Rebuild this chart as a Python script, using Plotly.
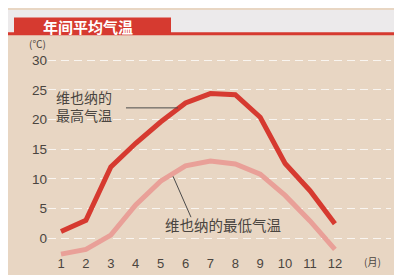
import plotly.graph_objects as go

months = list(range(1, 13))
month_labels = [str(m) for m in months]
high_temp = [1.1, 3.0, 12.0, 16.0, 19.6, 22.8, 24.4, 24.2, 20.4, 12.6, 8.0, 2.4]
low_temp = [-2.7, -1.9, 0.5, 5.6, 9.6, 12.2, 13.0, 12.5, 10.8, 7.2, 2.9, -1.9]
y_ticks = [0, 5, 10, 15, 20, 25, 30]
title_text = "<b>年间平均气温</b>"
high_label = "维也纳的<br>最高气温"
low_label = "维也纳的最低气温"

W, H = 402, 275
L, R, T, B = 40, 19, 40, 13
PW, PH = W - L - R, H - T - B

def px(x):
    return (x - L) / PW

def py(y):
    return (H - B - y) / PH

BG = "#E8D6C3"
RED = "#D63A30"
PINK = "#E9A098"
TXT = "#4a4540"
FONT = "Noto Sans CJK SC"

fig = go.Figure()
fig.add_trace(go.Scatter(x=months, y=low_temp, mode="lines",
                         line=dict(color=PINK, width=5), hoverinfo="skip"))
fig.add_trace(go.Scatter(x=months, y=high_temp, mode="lines",
                         line=dict(color=RED, width=5), hoverinfo="skip"))

shapes = [
    dict(type="rect", xref="paper", yref="paper", x0=px(0), x1=px(W), y0=py(24), y1=py(0),
         fillcolor="#ECEAEB", line=dict(width=0), layer="below"),
    dict(type="rect", xref="paper", yref="paper", x0=px(0), x1=px(W), y0=py(26.5), y1=py(23.5),
         fillcolor=RED, line=dict(width=0), layer="below"),
    dict(type="rect", xref="paper", yref="paper", x0=px(6), x1=px(163), y0=py(26), y1=py(8),
         fillcolor=RED, line=dict(width=0), layer="below"),
    dict(type="line", xref="x", yref="y", x0=3.61, x1=5.70, y0=21.98, y1=21.98,
         line=dict(color="#4a4a4a", width=1)),
    dict(type="line", xref="x", yref="y", x0=5.50, x1=6.22, y0=10.43, y1=3.53,
         line=dict(color="#4a4a4a", width=1)),
]

annotations = [
    dict(text=title_text, xref="paper", yref="paper", x=px(80), y=py(17), showarrow=False,
         font=dict(family=FONT, size=15, color="white"), xanchor="center", yanchor="middle"),
    dict(text=high_label, xref="paper", yref="paper", x=px(76), y=py(101), showarrow=False,
         font=dict(family=FONT, size=14, color=TXT), xanchor="center", yanchor="middle",
         align="left"),
    dict(text=low_label, xref="paper", yref="paper", x=px(215), y=py(226), showarrow=False,
         font=dict(family=FONT, size=14.5, color=TXT), xanchor="center", yanchor="middle"),
    dict(text="(℃)", xref="paper", yref="paper", x=px(29), y=py(35), showarrow=False,
         font=dict(family=FONT, size=10, color=TXT), xanchor="center", yanchor="middle"),
    dict(text="(月)", xref="paper", yref="paper", x=px(364), y=py(265), showarrow=False,
         font=dict(family=FONT, size=10, color=TXT), xanchor="center", yanchor="middle"),
]

ppu_x = 24.9
ppu_y = 6.233
x0 = 1 - (53 - L) / ppu_x
x1 = x0 + PW / ppu_x
y_top = (240 - T) / ppu_y
y_bot = -((H - B) - 240) / ppu_y

fig.update_layout(
    width=W, height=H,
    margin=dict(l=L, r=R, t=T, b=B),
    paper_bgcolor=BG, plot_bgcolor=BG,
    showlegend=False,
    font=dict(family="Liberation Sans", color=TXT),
    shapes=shapes,
    annotations=annotations,
    xaxis=dict(range=[x0, x1], tickmode="array", tickvals=months, ticktext=month_labels,
               showgrid=False, zeroline=False, showline=False, ticks="",
               tickfont=dict(size=13, color=TXT), ticklabelstandoff=-5, fixedrange=True),
    yaxis=dict(range=[y_bot, y_top], tickmode="array", tickvals=y_ticks,
               ticktext=[str(v) for v in y_ticks],
               showgrid=True, gridcolor="rgba(255,255,255,0.75)", gridwidth=1,
               griddash="8px,5px", zeroline=False, showline=False, ticks="",
               tickfont=dict(size=13.5, color=TXT), ticklabelstandoff=0, fixedrange=True),
)

fig.write_html("out.html")
